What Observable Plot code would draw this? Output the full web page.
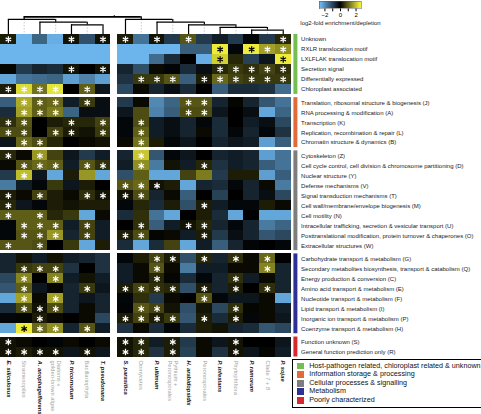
<!DOCTYPE html>
<html><head><meta charset="utf-8">
<script src="https://cdn.jsdelivr.net/npm/d3@7"></script>
<script src="https://cdn.jsdelivr.net/npm/@observablehq/plot@0.6"></script>
<style>
body{margin:0;background:#fff;font-family:"Liberation Sans",Arial,sans-serif;}
#wrap{position:relative;width:481px;height:414px;overflow:hidden;}
#chart{position:absolute;left:0;top:0;}
#ramp{position:absolute;left:280px;top:0;}
#box{position:absolute;left:292.3px;top:358.7px;width:200px;height:49px;border:1.8px solid #000;box-sizing:border-box;padding-top:2px;}
.item{height:8.6px;line-height:8.6px;font-size:7.2px;color:#111;white-space:nowrap;display:flex;align-items:center;}
.sw{width:6.7px;height:6.7px;margin-left:4.2px;margin-right:5px;flex:none;}
</style></head>
<body><div id="wrap"><div id="chart"></div><div id="ramp"></div><div id="box"></div></div>
<script>
// ---------- data ----------
const leftCols = ["E. siliculosus","Stramenopiles","A. anophagefferens","Diatoms +\ngolden-brown algae","P. tricornutum","Bacillariophyta","T. pseudonana"];
const rightCols = ["S. parasitica","Oomycetes","P. ultimum","Pythium +\nPeronosporales","H. arabidopsidis","Peronosporales","P. infestans","Phytophthora","P. ramorum","Clade 7 + 8","P. sojae"];
const cladeCols = ["Stramenopiles","Diatoms +\ngolden-brown algae","Bacillariophyta","Oomycetes","Pythium +\nPeronosporales","Peronosporales","Phytophthora","Clade 7 + 8"];

const groupNames = ["Host-pathogen related, chloroplast related & unknown","Information storage & processing","Cellular processes & signalling","Metabolism","Poorly characterized"];
const groupColors = ["#74bd50","#e2693a","#7d7d7d","#2e3192","#d7282f"];
const groupSizes = [6,5,10,8,2];

const rowLabels = [
 "Unknown","RXLR translocation motif","LXLFLAK translocation motif","Secretion signal","Differentially expressed","Chloroplast associated",
 "Translation, ribosomal structure & biogenesis (J)","RNA processing & modification (A)","Transcription (K)","Replication, recombination & repair (L)","Chromatin structure & dynamics (B)",
 "Cytoskeleton (Z)","Cell cycle control, cell division & chromosome partitioning (D)","Nuclear structure (Y)","Defense mechanisms (V)","Signal transduction mechanisms (T)","Cell wall/membrane/envelope biogenesis (M)","Cell motility (N)","Intracellular trafficking, secretion & vesicular transport (U)","Posttranslational modification, protein turnover & chaperones (O)","Extracellular structures (W)",
 "Carbohydrate transport & metabolism (G)","Secondary metabolites biosynthesis, transport & catabolism (Q)","Energy production & conversion (C)","Amino acid transport & metabolism (E)","Nucleotide transport & metabolism (F)","Lipid transport & metabolism (I)","Inorganic ion transport & metabolism (P)","Coenzyme transport & metabolism (H)",
 "Function unknown (S)","General function prediction only (R)"
];

// log2-fold values, 7 left columns then 11 right columns
const values = [
 [0.3,-2.5,-1.4,-2.4,0.2,-1.1,0.2, 0.3,-1.6,0.2,-0.8,0.9,-0.8,-0.4,-0.8,-0.1,-0.8,0.4],
 [-2.6,-2.6,-2.6,-2.6,-2.6,-2.6,-2.6, -2.6,-2.6,-2.6,-2.6,-1.3,-1.3,2.6,-0.1,2.6,1.7,1.5],
 [-2.6,-2.6,-2.6,-2.6,-2.6,-2.6,-2.6, -2.6,-2.6,-1.5,-0.6,0.0,-2.4,2.2,0.4,-0.9,-0.3,2.6],
 [0.05,-0.8,-0.5,-0.6,0.2,0.0,0.2, -0.5,-1.1,0.1,-0.05,-0.6,-0.2,0.4,0.6,0.5,0.7,0.5],
 [-2.3,-1.6,-1.5,-1.4,-2.2,-1.8,-2.2, -0.7,0.6,0.6,0.9,-1.3,0.3,1.1,0.7,0.6,0.6,0.6],
 [0.3,2.3,1.2,2.4,0.0,1.0,-0.3, -1.0,0.1,-0.5,-0.2,-0.6,0.0,-1.3,-0.6,-0.6,-0.7,-1.5],
 [-1.3,1.8,1.0,1.1,-0.4,0.6,-0.2, -0.8,0.1,-1.9,-1.4,0.9,0.9,-0.5,0.05,-0.5,-1.2,-1.6],
 [-0.6,1.7,1.0,1.3,-1.4,-0.2,-0.2, -0.3,0.8,-1.8,-1.3,0.8,0.8,-0.3,0.0,-0.2,-2.3,-1.4],
 [0.5,0.9,0.0,0.3,0.4,0.4,0.7, -0.1,0.8,-0.4,-0.2,-0.5,-0.1,-0.6,0.0,-0.4,-0.2,-1.0],
 [0.8,0.8,0.0,0.7,0.3,0.2,0.6, -0.1,1.0,-0.4,-0.2,-0.5,0.1,-0.6,-0.1,-0.5,-0.1,-0.7],
 [-0.3,1.1,0.8,0.4,0.0,0.1,0.2, 0.1,1.2,0.3,-0.1,-0.3,0.0,-0.5,-0.3,-0.4,-2.2,-1.3],
 [0.4,0.1,1.6,0.7,-0.3,-0.8,-0.4, -0.5,2.1,-1.2,-0.1,-0.3,0.0,-0.5,-0.4,-0.5,-2.2,-1.6],
 [0.1,0.9,1.1,1.0,-0.4,0.9,0.5, -0.4,1.5,-1.7,0.2,-0.4,0.4,-0.7,-0.4,-0.5,-1.3,-1.6],
 [-0.8,2.0,-0.3,-2.3,0.3,1.6,-2.3, -1.1,1.0,-2.3,-2.3,0.7,1.3,-0.8,0.3,0.3,-2.2,-1.3],
 [-1.7,-0.4,-0.1,0.6,-0.3,0.3,0.0, 0.9,1.1,0.2,0.3,-2.3,-0.5,-0.6,-0.1,-0.5,0.1,-1.7],
 [0.3,0.1,0.7,0.3,0.1,0.5,0.2, 0.2,0.8,-0.5,0.1,-1.3,0.0,-0.9,0.0,-0.5,-0.2,-1.0],
 [0.4,-0.3,-0.1,0.3,0.2,0.3,0.3, -0.1,0.4,-0.6,0.3,-1.1,0.3,-0.4,-0.1,-0.1,0.3,0.1],
 [1.0,1.0,1.0,0.4,0.6,-2.3,0.1, -0.6,0.5,-1.6,-2.3,0.0,0.3,-0.6,-2.3,0.0,-2.3,-2.3],
 [-0.1,1.0,1.0,1.0,-0.4,0.7,-0.4, 0.0,0.5,-1.3,-0.4,0.2,0.4,-0.5,-0.1,-0.5,-1.7,-1.4],
 [-0.1,0.9,0.9,1.6,-0.5,0.7,-0.4, 0.3,0.8,0.05,0.1,-0.4,0.3,-0.8,-0.2,-0.5,-1.2,-1.0],
 [0.9,0.9,0.8,0.0,0.6,-2.3,0.3, -0.6,-2.3,-0.6,0.7,-2.3,-0.4,-1.3,-0.5,-0.05,0.0,-0.1],
 [-0.5,0.2,-0.4,0.2,-0.4,-0.5,-0.7, -0.1,0.3,0.7,0.3,-1.1,0.4,-0.5,0.5,0.1,1.1,0.0],
 [-0.5,0.6,0.7,0.7,-0.7,0.0,-0.7, -0.4,0.1,0.9,0.1,-1.7,-0.4,-0.4,0.1,0.1,1.4,-0.5],
 [-1.0,1.4,0.0,1.4,-0.4,0.2,-0.4, -0.4,0.1,0.4,0.05,-0.6,-0.1,-0.5,0.5,-0.4,0.1,-0.5],
 [-1.2,1.0,-0.3,0.05,-0.5,0.6,-0.3, 0.3,0.7,0.5,0.4,-1.1,0.3,-0.5,0.3,0.0,0.5,-0.5],
 [-2.3,1.7,0.1,1.7,-0.5,-0.3,-0.5, -0.1,0.5,-0.8,0.1,0.0,0.9,-0.1,-0.3,-0.3,0.1,-2.3],
 [-0.6,0.8,0.2,0.8,-0.5,0.1,-0.5, -0.05,0.9,0.7,0.2,-1.1,0.2,-1.0,0.5,0.05,0.1,-0.4],
 [-0.1,0.05,0.3,0.1,0.0,0.1,-1.0, 0.3,0.7,0.3,0.6,-1.2,0.3,-0.6,0.3,-0.1,0.1,-0.3],
 [-2.3,2.8,1.1,1.5,-0.5,0.9,-0.4, -0.7,0.1,-0.6,-0.1,-0.6,0.3,0.2,-0.5,-0.6,-1.2,-1.0],
 [0.2,0.1,0.0,-0.05,0.1,0.0,0.1, 0.2,0.4,-0.4,0.3,-0.8,0.1,-0.3,0.2,0.0,0.0,-0.3],
 [0.2,0.3,0.2,0.2,-0.3,0.2,-0.3, 0.2,0.4,-0.7,0.3,-0.9,0.1,-0.7,0.2,-0.3,0.05,-0.4]
];

// significance: "*" white asterisk, "b" black asterisk, "." none
const signif = [
 "*...*.*"+"*.*.*.....*",
 "......."+"......b.b**",
 "......."+"......b...b",
 "....*.*"+"......*****",
 "......."+".***.******",
 "****.*."+"...........",
 ".***.*."+"....**.....",
 ".***..."+"....**.....",
 "**..*.*"+".*.........",
 "**.**.*"+".*.........",
 ".**...."+".*.........",
 "*.*...."+".*.........",
 ".***.**"+".*...*.....",
 ".*....."+"...........",
 "......."+"***........",
 "*.*..**"+"**.........",
 "*......"+".....*.....",
 "*.*...."+"...........",
 ".***.*."+".*..**.....",
 ".***.*."+"**...*.....",
 "*.*...."+"...........",
 "......."+"..**.*.*.*.",
 ".***..."+"..*......*.",
 ".*.*..."+"..*....*...",
 ".*...*."+"****.*.*.*.",
 ".*.*..."+".....*.....",
 ".***..."+".**....*...",
 "..*...."+"****.*.*...",
 ".b**.*."+"...........",
 "*......"+"**.*...*...",
 "****.*."+"**.*...*..."
];

// dendrogram: [node, left child, right child, depth]
const treeJoins = [
 ["root","Stramenopiles","Oomycetes",0],
 ["Stramenopiles","E. siliculosus","Diatoms +\ngolden-brown algae",1],
 ["Diatoms +\ngolden-brown algae","A. anophagefferens","Bacillariophyta",2],
 ["Bacillariophyta","P. tricornutum","T. pseudonana",3],
 ["Oomycetes","S. parasitica","Pythium +\nPeronosporales",1],
 ["Pythium +\nPeronosporales","P. ultimum","Peronosporales",2],
 ["Peronosporales","H. arabidopsidis","Phytophthora",3],
 ["Phytophthora","P. infestans","Clade 7 + 8",4],
 ["Clade 7 + 8","P. ramorum","P. sojae",5]
];

const rampTicks = [-2,-1,0,1,2];

// ---------- layout in scale units ----------
const COL_GAP = 0.425, ROW_GAP = 0.33;
const allCols = [...leftCols, ...rightCols];
const XT = allCols.length + COL_GAP;
const YT = rowLabels.length + (groupSizes.length - 1) * ROW_GAP;
const colX = i => i + (i >= leftCols.length ? COL_GAP : 0);
const colC = name => colX(allCols.indexOf(name)) + 0.5;
const rowGroup = [];
groupSizes.forEach((n, g) => { for (let k = 0; k < n; k++) rowGroup.push(g); });
const rowY = r => r + rowGroup[r] * ROW_GAP;
const level = d => -1.774 + 0.267 * d;

const cells = [];
values.forEach((row, r) => row.forEach((v, c) => cells.push({
  x1: colX(c), x2: colX(c) + 1, y1: rowY(r), y2: rowY(r) + 1, v, s: signif[r][c]
})));
const rows = rowLabels.map((t, r) => ({t, y: rowY(r) + 0.5}));
let acc = 0;
const groups = groupSizes.map((n, g) => { const r0 = acc; acc += n; return {g, y1: rowY(r0), y2: rowY(acc - 1) + 1}; });
const cols = allCols.map((name, i) => ({name, x: colX(i) + 0.5, clade: cladeCols.includes(name)}));

const depthOf = new Map(treeJoins.map(j => [j[0], j[3]]));
const hLines = treeJoins.map(([n, a, b, d]) => ({x1: colC(a), x2: colC(b), y: level(d), root: n === "root"}));
const vLines = [];
treeJoins.forEach(([n, a, b, d]) => [a, b].forEach(c => vLines.push({
  x: colC(c), y1: level(d), y2: depthOf.has(c) ? level(depthOf.get(c)) : 0
})));
const dashLines = treeJoins.filter(j => j[0] !== "root").map(([n, a, b, d]) => ({x: colC(n), y1: level(d), y2: 0}));
const stem = [{x: leftCols.length + COL_GAP / 2, y1: level(0), y2: level(-0.45)}];

const colorOpts = {type: "linear", domain: [-2.5, 0, 2.5], range: ["#6cb4ec", "#000000", "#eeec3a"], interpolate: "rgb", clamp: true};
const FONT = "Liberation Sans, Arial, sans-serif";

const chart = Plot.plot({
  width: 481, height: 414, margin: 0,
  style: {fontFamily: FONT, background: "transparent"},
  x: {domain: [0, XT], range: [0, 290.6], axis: null},
  y: {domain: [0, YT], range: [34, 356.5], axis: null},
  color: colorOpts,
  marks: [
    Plot.rect(cells, {x1: "x1", x2: "x2", y1: "y1", y2: "y2", fill: "v", shapeRendering: "crispEdges"}),
    Plot.dot(cells.filter(d => d.s === "*"), {x: d => d.x1 + 0.5, y: d => d.y1 + 0.5, symbol: "asterisk", r: 3.0, stroke: "white", strokeWidth: 1.2}),
    Plot.dot(cells.filter(d => d.s === "b"), {x: d => d.x1 + 0.5, y: d => d.y1 + 0.5, symbol: "asterisk", r: 3.0, stroke: "black", strokeWidth: 1.2}),
    Plot.ruleX(dashLines, {x: "x", y1: "y1", y2: "y2", stroke: "#bdbdbd", strokeWidth: 0.8, strokeDasharray: "1.5,1.5"}),
    Plot.ruleY(hLines.filter(d => !d.root), {x1: "x1", x2: "x2", y: "y", stroke: "black", strokeWidth: 1.2}),
    Plot.ruleY(hLines.filter(d => d.root), {x1: "x1", x2: "x2", y: "y", stroke: "black", strokeWidth: 1.8}),
    Plot.ruleX(vLines, {x: "x", y1: "y1", y2: "y2", stroke: "black", strokeWidth: 1.2}),
    Plot.ruleX(stem, {x: "x", y1: "y1", y2: "y2", stroke: "black", strokeWidth: 1}),
    ...groups.map(g => Plot.ruleX([g], {x: () => XT, dx: 4.3, y1: "y1", y2: "y2", stroke: groupColors[g.g], strokeWidth: 4})),
    Plot.text(rows, {x: () => XT, y: "y", dx: 10, text: "t", textAnchor: "start", fontSize: 6, fill: "#1a1a1a", fontFamily: FONT}),
    Plot.text(cols.filter(d => !d.clade), {x: "x", y: () => YT, dy: 3.5, text: "name", rotate: 90, textAnchor: "start", fontSize: 5.8, fontWeight: "bold", fontStyle: "italic", fill: "#111", fontFamily: FONT}),
    Plot.text(cols.filter(d => d.clade), {x: "x", y: () => YT, dy: 3.5, text: "name", rotate: 90, textAnchor: "start", fontSize: 5.8, lineHeight: 0.95, fill: "#a3a3a3", fontFamily: FONT})
  ]
});
document.getElementById("chart").appendChild(chart);

// colour ramp legend
const steps = d3.range(-2.7, 2.7, 0.05);
const ramp = Plot.plot({
  width: 120, height: 30,
  marginLeft: 39, marginRight: 39, marginTop: 1, marginBottom: 21.7,
  style: {fontFamily: FONT, fontSize: "6px", background: "transparent"},
  x: {domain: [-2.7, 2.7], ticks: rampTicks, tickFormat: d => (d % 2 === 0 ? d3.format("d")(d) : ""), tickSize: 3, tickPadding: 1, label: null},
  y: {domain: [0, 1], axis: null},
  color: colorOpts,
  marks: [
    Plot.rect(steps, {x1: d => d, x2: d => d + 0.055, y1: 0, y2: 1, fill: d => d + 0.025, shapeRendering: "crispEdges"}),
    Plot.frame({stroke: "#555", strokeWidth: 0.5}),
    Plot.text(["log2-fold enrichment/depletion"], {x: 0, frameAnchor: "bottom", dy: 16, text: d => d, fontSize: 6, fill: "#222"})
  ]
});
document.getElementById("ramp").appendChild(ramp);

// category legend box
const box = document.getElementById("box");
groupNames.forEach((name, i) => {
  const it = document.createElement("div");
  it.className = "item";
  it.innerHTML = `<span class="sw" style="background:${groupColors[i]}"></span><span>${name.replace("&", "&amp;")}</span>`;
  box.appendChild(it);
});
</script>
</body></html>
